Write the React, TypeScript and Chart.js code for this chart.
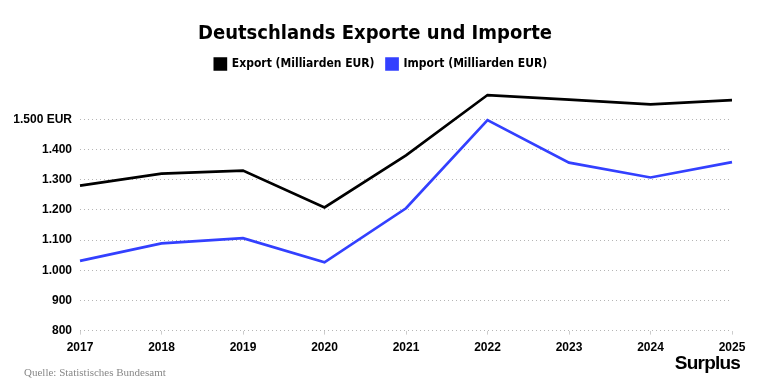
import React, { useEffect, useRef } from "react";
import { Chart, registerables } from "chart.js";

Chart.register(...registerables);

const years = ["2017", "2018", "2019", "2020", "2021", "2022", "2023", "2024", "2025"];
const exportValues = [1280, 1320, 1330, 1208, 1380, 1580, 1565, 1549, 1563];
const importValues = [1031, 1089, 1106, 1026, 1205, 1497, 1356, 1307, 1358];
const exportLabel = "Export (Milliarden EUR)";
const importLabel = "Import (Milliarden EUR)";
const titleText = "Deutschlands Exporte und Importe";
const sourceText = "Quelle: Statistisches Bundesamt";
const logoText = "Surplus";

const NARROW = "'Liberation Sans Narrow', 'DejaVu Sans Condensed', 'Liberation Sans', sans-serif";
const SANS = "'Liberation Sans', Arial, sans-serif";

export default function App() {
  const ref = useRef<HTMLCanvasElement | null>(null);

  useEffect(() => {
    document.body.style.margin = "0";
    const ctx = ref.current!.getContext("2d")!;
    const chart = new Chart(ctx, {
      type: "line",
      data: {
        labels: years,
        datasets: [
          {
            label: exportLabel,
            data: exportValues,
            borderColor: "#000000",
            backgroundColor: "#000000",
            borderWidth: 2.7,
            pointRadius: 0,
            tension: 0,
          },
          {
            label: importLabel,
            data: importValues,
            borderColor: "#3340ff",
            backgroundColor: "#3340ff",
            borderWidth: 2.7,
            pointRadius: 0,
            tension: 0,
          },
        ],
      },
      options: {
        animation: false,
        responsive: false,
        maintainAspectRatio: false,
        layout: { padding: { left: 0, right: 26, top: 0, bottom: 30 } },
        plugins: {
          title: {
            display: true,
            text: titleText,
            color: "#000",
            font: { family: NARROW, size: 20, weight: "bold" },
            padding: { top: 22, bottom: 0 },
          },
          legend: {
            display: true,
            labels: {
              color: "#000",
              boxWidth: 11,
              boxHeight: 11,
              padding: 12,
              font: { family: NARROW, size: 12, weight: "bold" },
            },
          },
          tooltip: { enabled: false },
        },
        scales: {
          x: {
            offset: false,
            border: { display: false },
            grid: {
              drawOnChartArea: false,
              drawTicks: true,
              tickLength: 4,
              color: "#cccccc",
            },
            ticks: {
              color: "#000",
              padding: 6,
              maxRotation: 0,
              font: { family: SANS, size: 12, weight: "bold" },
            },
          },
          y: {
            min: 800,
            max: 1600,
            border: { display: false, dash: [1, 3] },
            afterFit: (scale: any) => {
              scale.width = 80;
            },
            grid: {
              drawTicks: false,
              lineWidth: 1,
              color: (c: any) => (c.tick && c.tick.value === 1600 ? "rgba(0,0,0,0)" : "#b5b5b5"),
            },
            ticks: {
              stepSize: 100,
              padding: 8,
              color: "#000",
              font: { family: SANS, size: 12, weight: "bold" },
              callback: (v: any) => {
                const n = Number(v);
                if (n === 1600) return "";
                const s = n >= 1000 ? Math.floor(n / 1000) + "." + String(n % 1000).padStart(3, "0") : String(n);
                return n === 1500 ? s + " EUR" : s;
              },
            },
          },
        },
      },
      plugins: [
        {
          id: "legendGap",
          beforeInit: (ch: any) => {
            const lg = ch.legend;
            if (!lg) return;
            const orig = lg.fit;
            lg.fit = function () {
              orig.call(this);
              this.height += 9;
            };
          },
          afterLayout: (ch: any) => {
            if (ch.legend) ch.legend.left += 30;
            if (ch.titleBlock) {
              ch.titleBlock.left += 9;
              ch.titleBlock.right += 9;
            }
          },
        },
      ],
    } as any);
    return () => chart.destroy();
  }, []);

  return (
    <div style={{ position: "relative", width: 758, height: 391, background: "#fff" }}>
      <canvas ref={ref} width={758} height={391} style={{ display: "block" }} />
      <div
        style={{
          position: "absolute",
          left: 24,
          top: 366,
          fontFamily: "'Liberation Serif', 'DejaVu Serif', serif",
          fontSize: 11,
          color: "#888888",
          whiteSpace: "nowrap",
        }}
      >
        {sourceText}
      </div>
      <div
        style={{
          position: "absolute",
          right: 18,
          top: 352,
          fontFamily: SANS,
          fontWeight: 900,
          fontSize: 19,
          letterSpacing: -0.8,
          color: "#000",
          whiteSpace: "nowrap",
        }}
      >
        {logoText}
      </div>
    </div>
  );
}
